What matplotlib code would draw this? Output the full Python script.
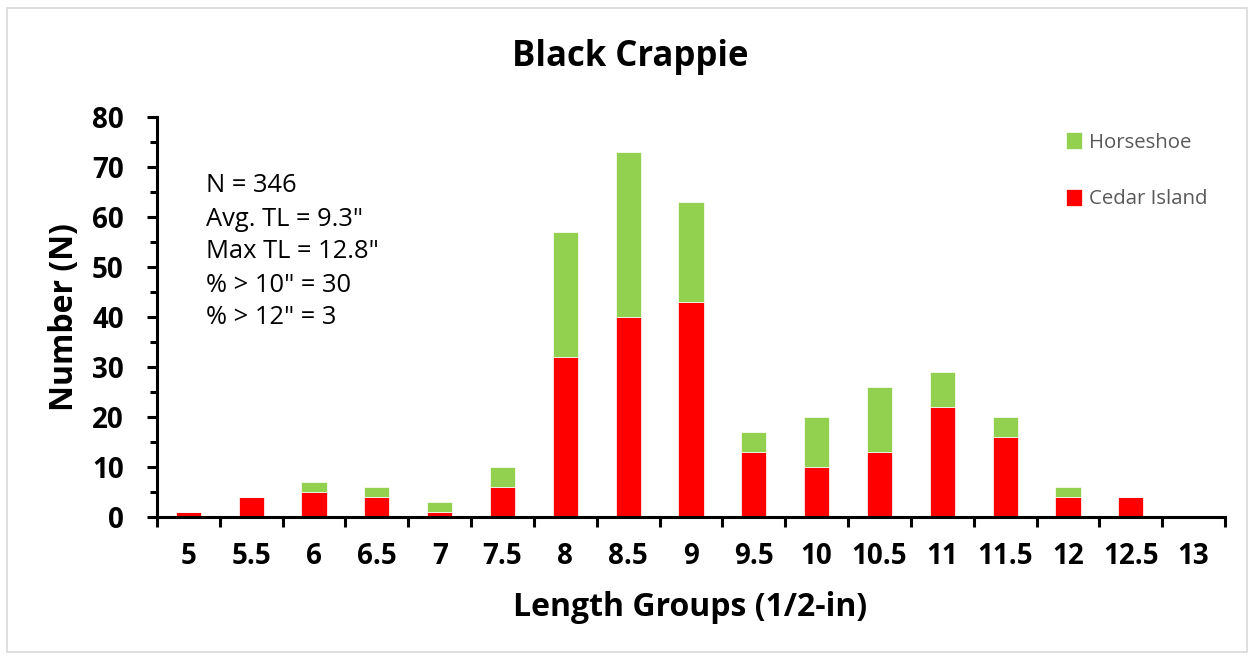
import numpy as np
import matplotlib
matplotlib.use("Agg")
import matplotlib.pyplot as plt
from matplotlib.patches import Rectangle

plt.rcParams['font.family'] = ['Open Sans', 'DejaVu Sans']

# data
groups = ["5", "5.5", "6", "6.5", "7", "7.5", "8", "8.5", "9", "9.5",
          "10", "10.5", "11", "11.5", "12", "12.5", "13"]
cedar = [1, 4, 5, 4, 1, 6, 32, 40, 43, 13, 10, 13, 22, 16, 4, 4, 0]
horseshoe = [0, 0, 2, 2, 2, 4, 25, 33, 20, 4, 10, 13, 7, 4, 2, 0, 0]
stats = ['N = 346', 'Avg. TL = 9.3"', 'Max TL = 12.8"', '% > 10" = 30', '% > 12" = 3']

W, H = 1253, 660
fig = plt.figure(figsize=(W / 100, H / 100), dpi=100)
fig.add_artist(Rectangle((7 / W, 8 / H), 1240 / W, 644 / H, transform=fig.transFigure,
                         fill=False, edgecolor='#d9d9d9', linewidth=1.2))

ax = fig.add_axes([157 / W, 1 - 517 / H, (1225 - 157) / W, 400 / H])
x = np.arange(len(groups))
ax.bar(x, cedar, width=0.4, color='#ff0000', edgecolor='white', linewidth=0.5, label='Cedar Island')
ax.bar(x, horseshoe, width=0.4, bottom=cedar, color='#92d050', edgecolor='white', linewidth=0.5,
       label='Horseshoe')

ax.set_xlim(-0.5, len(groups) - 0.5)
ax.set_ylim(0, 80)
for s in ['top', 'right']:
    ax.spines[s].set_visible(False)
for s in ['left', 'bottom']:
    ax.spines[s].set_linewidth(2.2)

# x: ticks on group boundaries, labels centred
ax.set_xticks(np.arange(len(groups) + 1) - 0.5)
ax.set_xticklabels([])
ax.set_xticks(x, minor=True)
ax.set_xticklabels(groups, minor=True, fontsize=20, fontweight='bold')
ax.tick_params(axis='x', which='major', direction='out', length=7, width=2.2)
ax.tick_params(axis='x', which='minor', length=0, pad=18)

ax.set_yticks(np.arange(0, 81, 10))
ax.set_yticks(np.arange(5, 80, 10), minor=True)
ax.tick_params(axis='y', which='major', direction='out', length=7, width=2.2, labelsize=20, pad=17)
ax.tick_params(axis='y', which='minor', direction='out', length=5, width=2.2)
for t in ax.get_yticklabels():
    t.set_fontweight('bold')

fig.text(0.503, 1 - 57 / H, 'Black Crappie', ha='center', va='center', fontsize=25, fontweight='bold')
fig.text(690 / W, 1 - 607 / H, 'Length Groups (1/2-in)', ha='center', va='center', fontsize=23,
         fontweight='bold')
fig.text(65 / W, 1 - 317 / H, 'Number (N)', ha='center', va='center', rotation=90, fontsize=23,
         fontweight='bold')

for i, line in enumerate(stats):
    fig.text(206 / W, 1 - (186 + 33 * i) / H, line, fontsize=18.4, va='center')

h, l = ax.get_legend_handles_labels()
leg = ax.legend(h[::-1], l[::-1], loc='upper left', bbox_to_anchor=(1048 / W, 1 - 114 / H),
                bbox_transform=fig.transFigure, frameon=False, fontsize=14.7, labelspacing=1.75,
                handlelength=0.75, handleheight=0.9, handletextpad=0.35, labelcolor='#595959')

fig.savefig('out.png', dpi=100)
